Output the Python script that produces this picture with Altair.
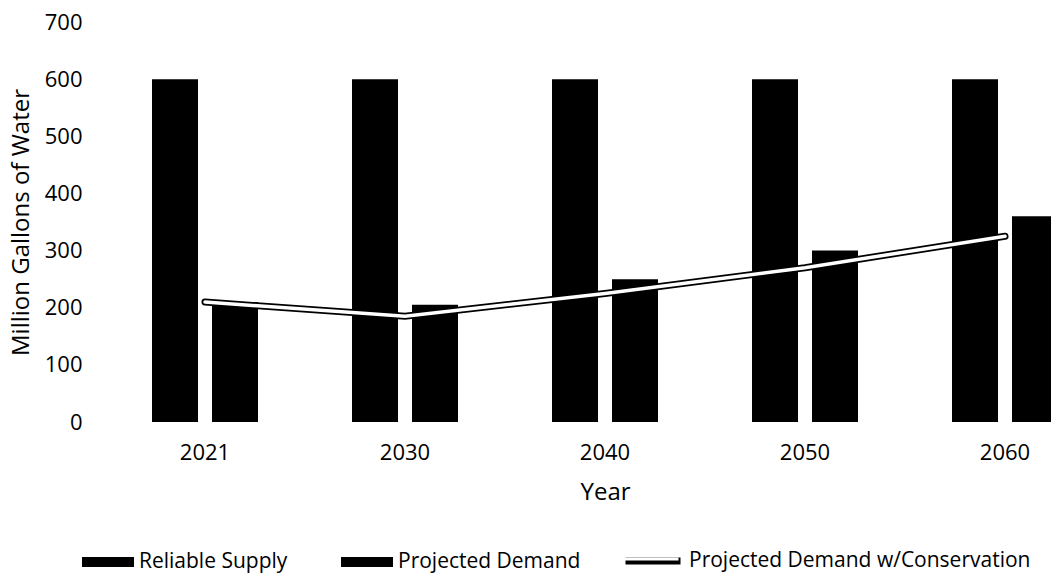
import altair as alt
import pandas as pd

years = ["2021", "2030", "2040", "2050", "2060"]
reliable_supply = [600, 600, 600, 600, 600]
projected_demand = [210, 205, 250, 300, 360]
demand_conservation = [210, 185, 225, 270, 325]

bar_series = ["Reliable Supply", "Projected Demand"]
line_series = ["Projected Demand w/Conservation"]

bars_df = pd.DataFrame({
    "Year": years * 2,
    "Series": [bar_series[0]] * len(years) + [bar_series[1]] * len(years),
    "Value": reliable_supply + projected_demand,
})
line_df = pd.DataFrame({
    "Year": years,
    "LineSeries": line_series * len(years),
    "LineInner": line_series * len(years),
    "Value": demand_conservation,
})

FONT = "Open Sans"
FS = 22

x_enc = alt.X(
    "Year:N", sort=years, title="Year",
    scale=alt.Scale(paddingInner=0.47, paddingOuter=0.235, range=[0, 1000]),
    axis=alt.Axis(labelAngle=0, domain=False, ticks=False, grid=False,
                  labelPadding=20, titlePadding=17),
)
y_enc = alt.Y(
    "Value:Q", title="Million Gallons of Water",
    scale=alt.Scale(domain=[0, 700]),
    axis=alt.Axis(values=list(range(0, 701, 100)), domain=False, ticks=False,
                  grid=False, labelPadding=23, titlePadding=11),
)

bars = alt.Chart(bars_df).mark_bar(color="black").encode(
    x=x_enc,
    y=y_enc,
    xOffset=alt.XOffset("Series:N", sort=bar_series,
                        scale=alt.Scale(paddingInner=0.233, paddingOuter=0)),
    color=alt.Color(
        "Series:N", sort=bar_series,
        scale=alt.Scale(domain=bar_series, range=["black", "black"]),
        legend=alt.Legend(
            title=None, orient="none", direction="horizontal",
            legendX=-24, legendY=513,
            symbolType="M-1,-0.19H1V0.19H-1Z", symbolSize=2704,
            symbolOpacity=1, columnPadding=52, labelOffset=4, labelLimit=0,
            labelFontSize=21, labelFont=FONT, labelColor="black",
        ),
    ),
)

outline = alt.Chart(line_df).mark_line(strokeWidth=7, strokeCap="round").encode(
    x=alt.X("Year:N", sort=years),
    y=alt.Y("Value:Q"),
    stroke=alt.Stroke(
        "LineSeries:N",
        scale=alt.Scale(domain=line_series, range=["black"]),
        legend=alt.Legend(
            title=None, orient="none", legendX=517, legendY=508,
            symbolType="stroke", symbolSize=3025, symbolStrokeWidth=7,
            labelOffset=5, labelLimit=0,
            labelFontSize=21, labelFont=FONT, labelColor="black",
        ),
    ),
)

inner = alt.Chart(line_df).mark_line(strokeWidth=3.5, strokeCap="round").encode(
    x=alt.X("Year:N", sort=years),
    y=alt.Y("Value:Q"),
    stroke=alt.Stroke(
        "LineInner:N",
        scale=alt.Scale(domain=line_series, range=["white"]),
        legend=alt.Legend(
            title=None, orient="none", legendX=517, legendY=508,
            symbolType="stroke", symbolSize=3025, symbolStrokeWidth=3,
            labelOffset=5, labelLimit=0, labelExpr="''",
            labelFontSize=21, labelFont=FONT, labelColor="black",
        ),
    ),
)

chart = alt.layer(bars, outline, inner).resolve_scale(
    color="independent", stroke="independent"
).resolve_legend(stroke="independent").properties(
    width=946, height=400, background="white",
    autosize=alt.AutoSizeParams(type="none"),
    padding={"left": 105, "top": 22, "right": 0, "bottom": 153},
).configure_view(stroke=None).configure_axis(
    labelFont=FONT, titleFont=FONT, labelFontSize=FS, titleFontSize=24,
    titleFontWeight="normal", labelColor="black", titleColor="black",
)

chart.save("out.html", embed_options={"renderer": "svg", "actions": False})
